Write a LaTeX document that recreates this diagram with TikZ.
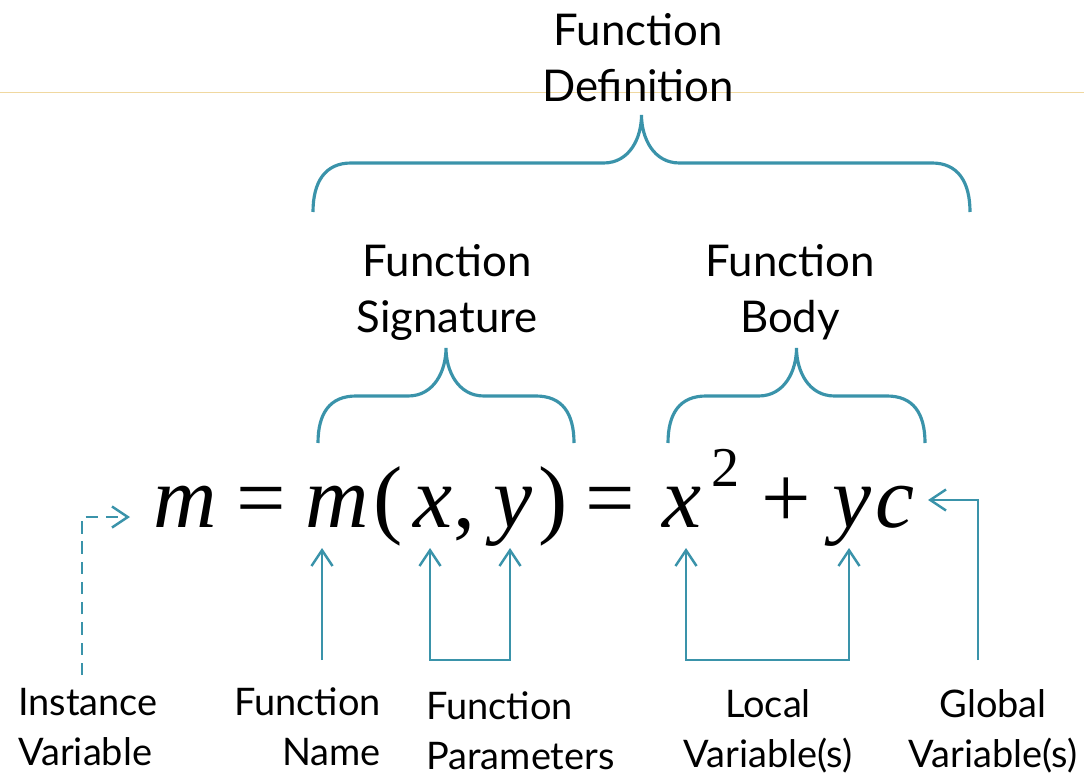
\documentclass[tikz,border=0pt]{standalone}
\usepackage{fontspec}
\setmainfont{Lato}
\newfontfamily\eqfont{Liberation Serif}
\usepackage{tikz}
\usetikzlibrary{arrows.meta,calc}
\definecolor{fnteal}{HTML}{3A93AA}
\definecolor{ruleyellow}{HTML}{F0D8A0}

\begin{document}
\begin{tikzpicture}[x=0.02cm,y=-0.02cm,
  brace/.style={draw=fnteal,line width=1.8pt},
  ptr/.style={draw=fnteal,line width=1.4pt,-{Straight Barb[length=9pt,width=12pt]}},
  ptrs/.style={ptr,{Straight Barb[length=9pt,width=12pt]}-{Straight Barb[length=9pt,width=12pt]}},
  biglab/.style={font=\fontsize{24.9}{31.9}\selectfont,align=center,inner sep=0pt},
  smalllab/.style={font=\fontsize{21.6}{28.5}\selectfont,inner sep=0pt},
  sym/.style={font=\eqfont\fontsize{50}{60}\selectfont\itshape,inner sep=0pt,anchor=base},
  op/.style={font=\eqfont\fontsize{50}{60}\selectfont,inner sep=0pt,anchor=base}]
  \useasboundingbox (0,0) rectangle (1084,777);
  % thin slide rule behind the title
  \draw[ruleyellow,line width=0.5pt] (0,92) -- (1084,92);

  % the equation, one node per symbol
  \foreach \nm/\cx/\s in {m1/185/m, m2/337/m, x1/433/x, y1/513/y, x2/682/x, y2/852/y, c/895/c}
    \node[sym] (\nm) at (\cx,527) {\s};
  \foreach \nm/\cx/\s in {eq1/261/=, lp/388/{(}, comma/464/{,}, rp/553/{)}, eq2/610/=, plus/786/+}
    \node[op] (\nm) at (\cx,527) {\s};
  \node[op,font=\eqfont\fontsize{32}{38}\selectfont] (sq) at (726,486) {2};

  % braces: left/right/bottom/middle/tip
  \foreach \l/\r/\yb/\ym/\yt in {313/970/212/163/115, 318/574/443/396/348, 668/925/443/396/348}{
    \pgfmathsetmacro{\c}{(\l+\r)/2}
    \draw[brace] (\l,\yb) .. controls (\l,\yb-30) and (\l+12,\ym) .. (\l+38,\ym)
      -- (\c-38,\ym) .. controls (\c-12,\ym) and (\c,\ym-25) .. (\c,\yt)
      .. controls (\c,\ym-25) and (\c+12,\ym) .. (\c+38,\ym)
      -- (\r-38,\ym) .. controls (\r-12,\ym) and (\r,\yb-30) .. (\r,\yb);
  }

  \node[biglab] (fdef) at (638,58) {Function\\Definition};
  \node[biglab] (fsig) at (447,292) {Function\\Signature};
  \node[biglab] (fbody) at (790,292) {Function\\Body};

  % labels under the equation
  \node[smalllab,align=left,anchor=west] (inst) at (18,727) {Instance\\Variable};
  \node[smalllab,align=right,anchor=east] (fname) at (381,727) {Function\\Name};
  \node[smalllab,align=left,anchor=west] (fpar) at (426,731) {Function\\Parameters};
  \node[smalllab,align=center] (loc) at (768,731) {Local\\Variable(s)};
  \node[smalllab,align=center] (glob) at (993,731) {Global\\Variable(s)};

  % arrow ends
  \coordinate (tM1) at (130,517);
  \coordinate (tM2) at ([shift={(-15,21)}]m2.base);
  \coordinate (tX1) at ([shift={(-3,21)}]x1.base);
  \coordinate (tY1) at ([shift={(-3,21)}]y1.base);
  \coordinate (tX2) at ([shift={(4,21)}]x2.base);
  \coordinate (tY2) at ([shift={(-3,21)}]y2.base);
  \coordinate (tC) at (928,500);
  \coordinate (instend) at (82,675);
  \coordinate (nameend) at (322,660);
  \coordinate (parbot) at (470,660);
  \coordinate (locbot) at (768,660);
  \coordinate (globend) at (978,660);

  \draw[ptr,dash pattern=on 7pt off 4.5pt] (instend) |- (tM1);
  \draw[ptr] (nameend) -- (tM2);
  \draw[ptrs] (tX1) |- (parbot) -| (tY1);
  \draw[ptrs] (tX2) |- (locbot) -| (tY2);
  \draw[ptr] (globend) |- (tC);
\end{tikzpicture}
\end{document}
